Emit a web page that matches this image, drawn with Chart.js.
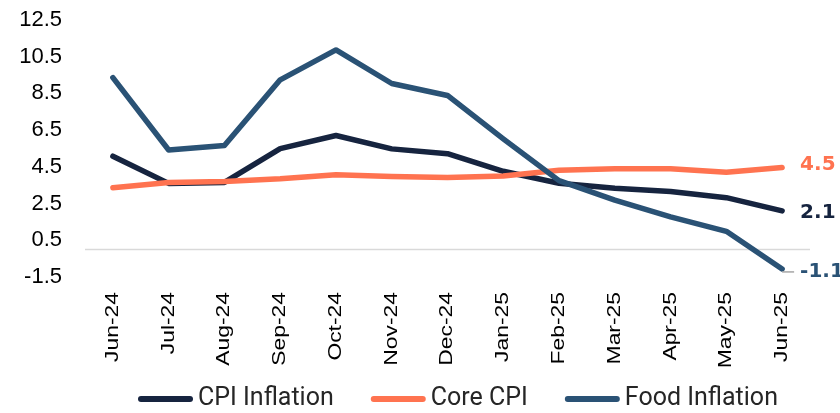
<!DOCTYPE html>
<html>
<head>
<meta charset="utf-8">
<script src="https://cdn.jsdelivr.net/npm/chart.js@4.4.1/dist/chart.umd.min.js"></script>
<style>
  html, body { margin: 0; padding: 0; background: #fff; }
  #wrap { width: 840px; height: 413px; position: relative; }
</style>
</head>
<body>
<div id="wrap"><canvas id="inflation-chart"></canvas></div>
<script>
/* =====================================
   DATA
======================================== */

const months = ["Jun-24", "Jul-24", "Aug-24", "Sep-24", "Oct-24", "Nov-24", "Dec-24",
                "Jan-25", "Feb-25", "Mar-25", "Apr-25", "May-25", "Jun-25"];

const cpiInflation  = [5.08, 3.60, 3.65, 5.49, 6.21, 5.48, 5.22, 4.26, 3.61, 3.34, 3.16, 2.82, 2.10];
const coreCpi       = [3.36, 3.65, 3.70, 3.85, 4.07, 3.98, 3.92, 4.00, 4.32, 4.40, 4.40, 4.20, 4.46];
const foodInflation = [9.36, 5.42, 5.66, 9.24, 10.87, 9.04, 8.39, 6.02, 3.75, 2.69, 1.78, 0.99, -1.06];

const yMin = -1.5;
const yMax = 12.5;
const yStep = 2;

/* =====================================
   PLUGINS
======================================== */

// zero line, like the excel category axis crossing at 0
const zeroLine = {
    id: "zeroLine",
    beforeDatasetsDraw(chart) {
        const { ctx, chartArea, scales } = chart;
        const y = scales.y.getPixelForValue(0);
        ctx.save();
        ctx.strokeStyle = "#d9d9d9";
        ctx.lineWidth = 1.5;
        ctx.beginPath();
        ctx.moveTo(chartArea.left, y);
        ctx.lineTo(chartArea.right, y);
        ctx.stroke();
        ctx.restore();
    }
};

// rotated month labels (slightly stretched like the original)
const monthLabels = {
    id: "monthLabels",
    afterDraw(chart) {
        const { ctx, chartArea, scales } = chart;
        ctx.save();
        ctx.fillStyle = "#000";
        ctx.font = "18px 'Liberation Sans', Arial, sans-serif";
        ctx.textAlign = "right";
        ctx.textBaseline = "middle";
        chart.data.labels.forEach((lbl, i) => {
            const x = scales.x.getPixelForValue(i);
            ctx.save();
            ctx.translate(x, chartArea.bottom + 15);
            ctx.rotate(-Math.PI / 2);
            ctx.scale(1.27, 1);
            ctx.fillText(lbl, 0, 0);
            ctx.restore();
        });
        ctx.restore();
    }
};

// value labels at the end of each line
const endLabels = {
    id: "endLabels",
    afterDatasetsDraw(chart) {
        const { ctx } = chart;
        ctx.save();
        ctx.font = "bold 20px 'DejaVu Sans', sans-serif";
        ctx.textAlign = "left";
        ctx.textBaseline = "middle";
        chart.data.datasets.forEach((ds, i) => {
            const meta = chart.getDatasetMeta(i);
            const pt = meta.data[meta.data.length - 1];
            const val = ds.data[ds.data.length - 1];
            let dy = ds.endShift || 0;
            if (ds.leader) {
                ctx.strokeStyle = "#a6a6a6";
                ctx.lineWidth = 1.5;
                ctx.beginPath();
                ctx.moveTo(pt.x, pt.y + dy);
                ctx.lineTo(pt.x + 12, pt.y + dy);
                ctx.stroke();
            }
            ctx.fillStyle = ds.borderColor;
            ctx.fillText(val.toFixed(1), pt.x + 18, pt.y + dy);
        });
        ctx.restore();
    }
};

// legend drawn by hand so the line samples are thick and rounded
const lineLegend = {
    id: "lineLegend",
    afterDraw(chart) {
        const { ctx } = chart;
        const lineLen = 55;
        const gap = 5;
        const itemGap = 37;
        const y = 399;
        let x = 138;
        ctx.save();
        ctx.font = "25px Roboto, sans-serif";
        ctx.textBaseline = "middle";
        chart.data.datasets.forEach(ds => {
            ctx.strokeStyle = ds.borderColor;
            ctx.lineWidth = 6;
            ctx.lineCap = "round";
            ctx.beginPath();
            ctx.moveTo(x + 3, y);
            ctx.lineTo(x + lineLen - 3, y);
            ctx.stroke();
            x += lineLen + gap;
            ctx.fillStyle = "#262626";
            ctx.fillText(ds.label, x, y);
            x += ctx.measureText(ds.label).width + itemGap;
        });
        ctx.restore();
    }
};

/* =====================================
   CHART
======================================== */

const lineStyle = {
    borderWidth: 5.5,
    pointRadius: 0,
    tension: 0,
    borderCapStyle: "round",
    borderJoinStyle: "round",
    fill: false
};

const inflationData = {
    labels: months,
    datasets: [
        { label: "CPI Inflation", data: cpiInflation, borderColor: "#16243f", order: 3, endShift: 2, ...lineStyle },
        { label: "Core CPI", data: coreCpi, borderColor: "#ff7350", order: 2, endShift: -3, ...lineStyle },
        { label: "Food Inflation", data: foodInflation, borderColor: "#2a5275", order: 1, endShift: 3, leader: true, ...lineStyle }
    ]
};

const inflationOptions = {
    responsive: true,
    maintainAspectRatio: false,
    animation: false,
    layout: {
        padding: { left: 19, right: 30, top: 20, bottom: 0 }
    },
    scales: {
        x: {
            offset: true,
            grid: { display: false, drawTicks: false },
            border: { display: false },
            ticks: { display: false },
            afterFit(scale) { scale.height = 136; }
        },
        y: {
            min: yMin,
            max: yMax,
            grid: { display: false, drawTicks: false },
            border: { display: false },
            ticks: {
                stepSize: yStep,
                padding: 23,
                color: "#000",
                font: { family: "'Liberation Sans', Arial, sans-serif", size: 22 },
                callback: v => v.toFixed(1)
            },
            afterFit(scale) {
                scale.width = 66;
                scale.paddingTop = 0;
                scale.paddingBottom = 0;
            }
        }
    },
    plugins: {
        legend: { display: false },
        tooltip: { enabled: false }
    }
};

let inflationChart = new Chart(document.getElementById("inflation-chart"), {
    type: "line",
    data: inflationData,
    options: inflationOptions,
    plugins: [zeroLine, endLabels, monthLabels, lineLegend]
});
</script>
</body>
</html>
